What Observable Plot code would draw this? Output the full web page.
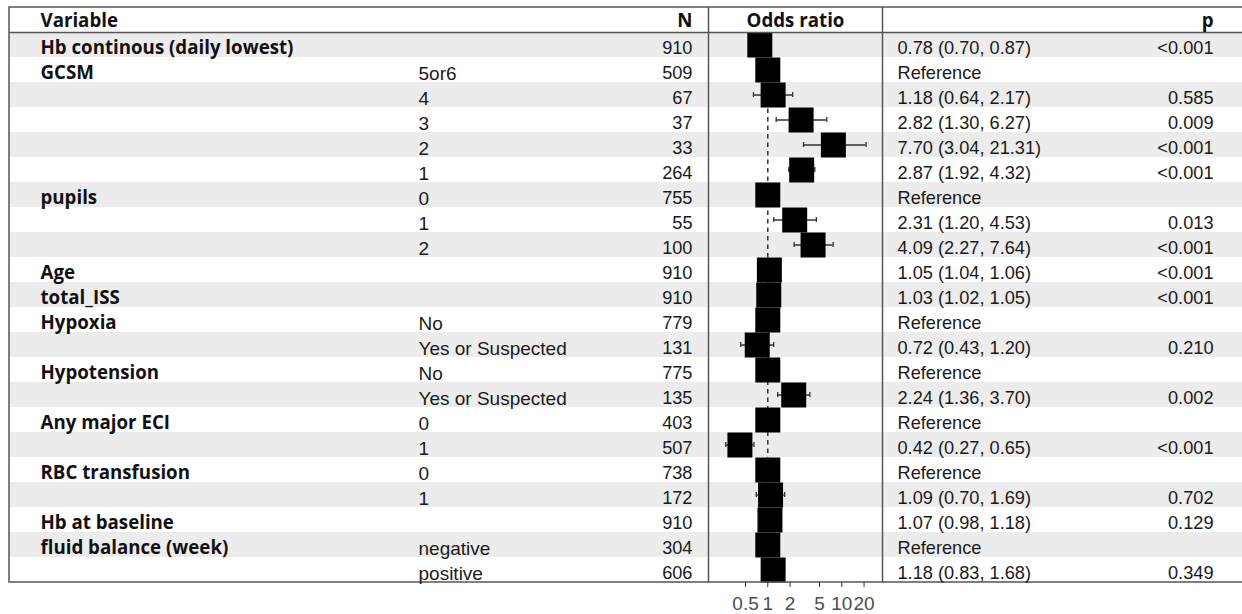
<!DOCTYPE html>
<html>
<head>
<meta charset="utf-8">
<script src="https://cdn.jsdelivr.net/npm/d3@7"></script>
<script src="https://cdn.jsdelivr.net/npm/@observablehq/plot@0.6"></script>
<style>
  html, body { margin: 0; padding: 0; background: #ffffff; }
  #chart svg { display: block; }
</style>
</head>
<body>
<div id="chart"></div>
<script>
// Forest plot of the logistic regression model: one entry per table row.
const variables = [
  "Hb continous (daily lowest)", "GCSM", "", "", "", "",
  "pupils", "", "", "Age", "total_ISS", "Hypoxia", "",
  "Hypotension", "", "Any major ECI", "", "RBC transfusion", "",
  "Hb at baseline", "fluid balance (week)", ""
];
const levels = [
  "", "5or6", "4", "3", "2", "1",
  "0", "1", "2", "", "", "No", "Yes or Suspected",
  "No", "Yes or Suspected", "0", "1", "0", "1",
  "", "negative", "positive"
];
const nObs = [910, 509, 67, 37, 33, 264, 755, 55, 100, 910, 910, 779, 131, 775, 135, 403, 507, 738, 172, 910, 304, 606];
// Reference levels sit at an odds ratio of 1 with no interval.
const oddsRatio = [0.78, 1, 1.18, 2.82, 7.70, 2.87, 1, 2.31, 4.09, 1.05, 1.03, 1, 0.72, 1, 2.24, 1, 0.42, 1, 1.09, 1.07, 1, 1.18];
const ciLow  = [0.70, null, 0.64, 1.30, 3.04, 1.92, null, 1.20, 2.27, 1.04, 1.02, null, 0.43, null, 1.36, null, 0.27, null, 0.70, 0.98, null, 0.83];
const ciHigh = [0.87, null, 2.17, 6.27, 21.31, 4.32, null, 4.53, 7.64, 1.06, 1.05, null, 1.20, null, 3.70, null, 0.65, null, 1.69, 1.18, null, 1.68];
const pValues = ["<0.001", "", "0.585", "0.009", "<0.001", "<0.001", "", "0.013", "<0.001", "<0.001", "<0.001", "", "0.210", "", "0.002", "", "<0.001", "", "0.702", "0.129", "", "0.349"];
const xTicks = [0.5, 1, 2, 5, 10, 20];
const xLimits = [0.158, 35.5];

const rows = variables.map((variable, i) => ({
  row: i,
  variable,
  level: levels[i],
  n: nObs[i],
  or: oddsRatio[i],
  lo: ciLow[i],
  hi: ciHigh[i],
  p: pValues[i],
  estimate: ciLow[i] == null
    ? "Reference"
    : `${oddsRatio[i].toFixed(2)} (${ciLow[i].toFixed(2)}, ${ciHigh[i].toFixed(2)})`
}));
const ciRows = rows.filter(d => d.lo != null);
const nRows = rows.length;

const regular = "'Liberation Sans', Arial, sans-serif";
const bold = "'Open Sans', 'DejaVu Sans', sans-serif";
const boldSize = 18.7;
const numSize = 18.2;
const levelSize = 19;
const rowDy = 3.5;
const ink = "#1a1a1a";
const mid = d => d.row + 0.5;

const chart = Plot.plot({
  width: 1242,
  height: 614,
  marginTop: 7,
  marginBottom: 32,
  marginLeft: 9,
  marginRight: 0,
  style: { background: "#ffffff", fontFamily: regular, overflow: "visible" },
  x: { type: "log", domain: xLimits, range: [708, 882] },
  y: { domain: [-1, nRows], range: [7, 582], axis: null },
  marks: [
    // zebra stripes across the whole table
    Plot.rect(rows.filter(d => d.row % 2 === 0), {
      y1: "row", y2: d => d.row + 1, fill: "#ececec", insetRight: -10
    }),
    // reference line at OR = 1
    Plot.ruleX([1], { y1: 0, y2: nRows, stroke: "#333333", strokeWidth: 1.5, strokeDasharray: "4.5,4" }),
    // confidence intervals with end caps
    Plot.ruleY(ciRows, { y: mid, x1: "lo", x2: "hi", stroke: "#333333", strokeWidth: 1.3 }),
    Plot.ruleX(ciRows, { x: "lo", y1: d => d.row + 0.4, y2: d => d.row + 0.6, stroke: "#333333", strokeWidth: 1.3 }),
    Plot.ruleX(ciRows, { x: "hi", y1: d => d.row + 0.4, y2: d => d.row + 0.6, stroke: "#333333", strokeWidth: 1.3 }),
    // point estimates
    Plot.dot(rows, { x: "or", y: mid, symbol: "square", r: 14.1, fill: "#000000", stroke: "none" }),
    // table frame and panel borders
    Plot.rect([0], { y1: -1, y2: nRows, fill: "none", stroke: "#555555", strokeWidth: 1.5, insetRight: -10 }),
    Plot.ruleY([0], { stroke: "#555555", strokeWidth: 1.5, insetRight: -10 }),
    Plot.ruleX(xLimits, { y1: -1, y2: nRows, stroke: "#555555", strokeWidth: 1.5 }),
    // header
    Plot.text(["Variable"], { y: -0.5, frameAnchor: "left", dx: 31, dy: 1.5, textAnchor: "start", fontFamily: bold, fontWeight: 700, fontSize: boldSize, fill: "#111111" }),
    Plot.text(["N"], { y: -0.5, frameAnchor: "left", dx: 683, dy: 1.5, textAnchor: "end", fontFamily: bold, fontWeight: 700, fontSize: boldSize, fill: "#111111" }),
    Plot.text(["Odds ratio"], { y: -0.5, frameAnchor: "left", dx: 786, dy: 1.5, textAnchor: "middle", fontFamily: bold, fontWeight: 700, fontSize: boldSize, fill: "#111111" }),
    Plot.text(["p"], { y: -0.5, frameAnchor: "right", dx: -29, dy: 1.5, textAnchor: "end", fontFamily: bold, fontWeight: 700, fontSize: boldSize, fill: "#111111" }),
    // table columns
    Plot.text(rows, { y: mid, text: "variable", frameAnchor: "left", dx: 31, dy: rowDy, textAnchor: "start", fontFamily: bold, fontWeight: 700, fontSize: boldSize, fill: "#111111" }),
    Plot.text(rows, { y: mid, text: "level", frameAnchor: "left", dx: 409, dy: rowDy, textAnchor: "start", fontSize: levelSize, fill: ink }),
    Plot.text(rows, { y: mid, text: d => String(d.n), frameAnchor: "left", dx: 683, dy: rowDy, textAnchor: "end", fontSize: numSize, fill: ink }),
    Plot.text(rows, { y: mid, text: "estimate", frameAnchor: "left", dx: 888, dy: rowDy, textAnchor: "start", fontSize: numSize, fill: ink }),
    Plot.text(rows, { y: mid, text: "p", frameAnchor: "right", dx: -29, dy: rowDy, textAnchor: "end", fontSize: numSize, fill: ink }),
    // odds-ratio axis
    Plot.axisX({
      ticks: xTicks, tickFormat: d => String(d), anchor: "bottom",
      tickSize: 5, tickPadding: 9, fontSize: 19, stroke: "#333333", fill: "#4d4d4d", label: null
    })
  ]
});

document.getElementById("chart").appendChild(chart);
</script>
</body>
</html>
